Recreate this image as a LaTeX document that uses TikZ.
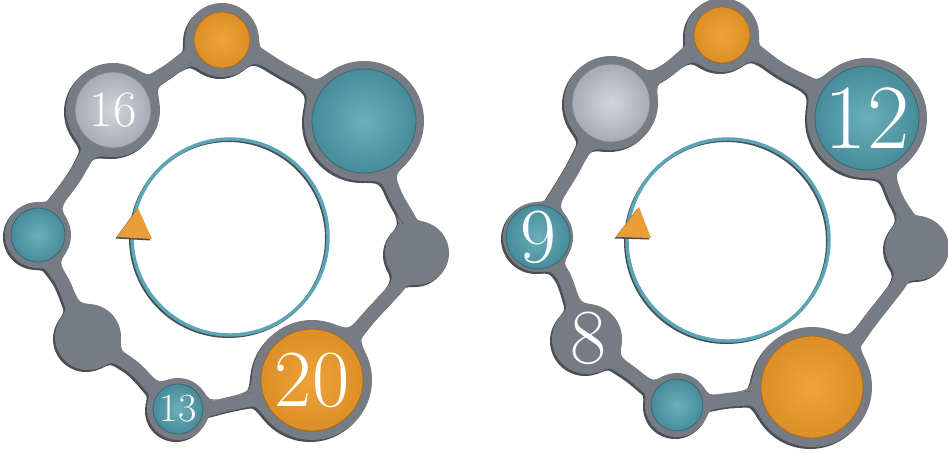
\documentclass[tikz,border=0pt]{standalone}
\usetikzlibrary{calc,intersections}
\definecolor{ringgray}{HTML}{767B84}
\definecolor{ringshadow}{HTML}{4A4E55}
\definecolor{orin}{HTML}{EFA33B}
\definecolor{orout}{HTML}{DC8F27}
\definecolor{tlin}{HTML}{6AAFB9}
\definecolor{tlout}{HTML}{478C99}
\definecolor{lgin}{HTML}{D3D5DA}
\definecolor{lgout}{HTML}{A7ABB4}
\definecolor{loopteal}{HTML}{5AA6B6}
\definecolor{arrorange}{HTML}{E99E3A}
\tikzset{
  orangeball/.style={circle, inner sep=0pt, inner color=orin, outer color=orout, draw=orout!75!black, line width=0.8pt, text=white},
  tealball/.style={circle, inner sep=0pt, inner color=tlin, outer color=tlout, draw=tlout!75!black, line width=0.8pt, text=white},
  greyball/.style={circle, inner sep=0pt, inner color=lgin, outer color=lgout, draw=lgout!75!black, line width=0.8pt, text=white},
  numtext/.style={text=white, inner sep=0pt},
  loopline/.style={draw=loopteal, line width=3.4pt},
  loopshadow/.style={draw=ringshadow, line width=3pt},
  tri/.style={fill=arrorange},
  trishadow/.style={fill=ringshadow}
}
\def\bandh{7}
% one concave fillet between a ball (centre #1, radius #2) and the band,
% band direction given by point #3, side #4 (90/-90), fillet radius #5, colour #6
\newcommand{\onefillet}[6]{%
  \pgfmathsetmacro{\fa}{sqrt((#2+#5)^2-(\bandh+#5)^2)}%
  \pgfmathsetmacro{\ft}{#5*sqrt((#2-\bandh)/(#2+2*#5+\bandh))}%
  \pgfmathsetmacro{\fak}{\fa-\ft}%
  \pgfmathsetmacro{\fhf}{\bandh+#5}%
  \pgfmathsetmacro{\fr}{#2/(#2+#5)}%
  \coordinate (fu) at ($(#1)!\fa pt!(#3)$);
  \coordinate (fkz) at ($(#1)!\fak pt!(#3)$);
  \coordinate (fp) at ($(fu)!\fhf pt!#4:(#1)$);
  \coordinate (ft2) at ($(fu)!\bandh pt!#4:(#1)$);
  \coordinate (fk) at ($(fkz)!\bandh pt!#4:(#1)$);
  \coordinate (ft1) at ($(#1)!\fr!(fp)$);
  \fill[#6] (#1) -- (ft1) .. controls (fk) .. (ft2) -- cycle;
}
% gray ball (outer) with its four fillets onto the band named "band"
\newcommand{\gball}[5]{%
  \fill[#5] (#1,#2) circle[radius=#3];
  \coordinate (gc) at (#1,#2);
  \pgfmathsetmacro{\fb}{sqrt((#3+#4)^2-(\bandh+#4)^2)}%
  \path[name path=fcirc] (gc) circle[radius=\fb];
  \path[name intersections={of=band and fcirc, name=fx}];
  \onefillet{gc}{#3}{fx-1}{90}{#4}{#5}
  \onefillet{gc}{#3}{fx-1}{-90}{#4}{#5}
  \onefillet{gc}{#3}{fx-2}{90}{#4}{#5}
  \onefillet{gc}{#3}{fx-2}{-90}{#4}{#5}
}
\newcommand{\leftgear}[1]{%
  \draw[#1, line width=14pt, name path=band] plot[smooth cycle, tension=0.65] coordinates {(222,40) (283,70) (364,121) (393,190) (417,253) (367,320) (312,380) (233,403) (178,409) (133,367) (88,337) (63,283) (38,235) (77,173) (113,110) (167,72)};
  \gball{222}{40}{37}{22}{#1}
  \gball{364}{121}{60}{26}{#1}
  \gball{417}{253}{32}{22}{#1}
  \gball{312}{380}{60}{26}{#1}
  \gball{178}{409}{31}{18}{#1}
  \gball{88}{337}{33}{22}{#1}
  \gball{38}{235}{33}{20}{#1}
  \gball{113}{110}{47}{24}{#1}
}
\newcommand{\rightgear}[1]{%
  \draw[#1, line width=14pt, name path=band] plot[smooth cycle, tension=0.65] coordinates {(722,35) (785,72) (867,118) (894,193) (917,248) (871,320) (812,387) (727,400) (677,405) (631,373) (587,339) (564,277) (538,237) (574,167) (611,103) (664,72)};
  \gball{722}{35}{37}{22}{#1}
  \gball{867}{118}{60}{26}{#1}
  \gball{917}{248}{32}{22}{#1}
  \gball{812}{387}{60}{26}{#1}
  \gball{677}{405}{32}{18}{#1}
  \gball{587}{339}{35}{22}{#1}
  \gball{538}{237}{35}{20}{#1}
  \gball{611}{103}{47}{24}{#1}
}
\begin{document}
\begin{tikzpicture}[x=1pt,y=-1pt]
\useasboundingbox (0,0) rectangle (948,451);

% ================= LEFT GEAR =================
\begin{scope}[transform canvas={shift={(-2,2)}}]
  \leftgear{ringshadow}
\end{scope}
\leftgear{ringgray}
\node[orangeball, minimum size=56pt] (li1) at (222,40) {};
\node[tealball, minimum size=104pt] (li2) at (364,121) {};
\node[orangeball, minimum size=102pt, font=\fontsize{81}{81}\selectfont] (li4) at (312,380) {20};
\node[tealball, minimum size=50pt, font=\fontsize{40}{40}\selectfont] (li5) at (178,409) {13};
\node[tealball, minimum size=54pt] (li7) at (38,235) {};
\node[greyball, minimum size=76pt, font=\fontsize{51}{51}\selectfont] (li8) at (113,110) {16};
\coordinate (lc) at (230,237);
\draw[loopshadow] ([shift={(-1.5,1.5)}]lc) circle[radius=98];
\draw[loopline] (lc) circle[radius=98];
\coordinate (lta) at (117,237);
\coordinate (ltb) at (138,208);
\coordinate (ltc) at (152,239);
\fill[trishadow] ([shift={(-1.5,1.5)}]lta) -- ([shift={(-1.5,1.5)}]ltb) -- ([shift={(-1.5,1.5)}]ltc) -- cycle;
\fill[tri] (lta) -- (ltb) -- (ltc) -- cycle;

% ================= RIGHT GEAR =================
\begin{scope}[transform canvas={shift={(-2,2)}}]
  \rightgear{ringshadow}
\end{scope}
\rightgear{ringgray}
\node[orangeball, minimum size=56pt] (ri1) at (722,35) {};
\node[tealball, minimum size=104pt, font=\fontsize{92}{92}\selectfont] (ri2) at (867,118) {12};
\node[orangeball, minimum size=102pt] (ri4) at (812,387) {};
\node[tealball, minimum size=52pt] (ri5) at (677,405) {};
\node[numtext, font=\fontsize{78}{78}\selectfont] (ri6) at (588,338) {8};
\node[tealball, minimum size=56pt, font=\fontsize{78}{78}\selectfont] (ri7) at (538,237) {9};
\node[greyball, minimum size=78pt] (ri8) at (611,103) {};
\coordinate (rc) at (728,240);
\draw[loopshadow] ([shift={(-1.5,1.5)}]rc) circle[radius=101];
\draw[loopline] (rc) circle[radius=101];
\coordinate (rta) at (616,237);
\coordinate (rtb) at (639,207);
\coordinate (rtc) at (651,238);
\fill[trishadow] ([shift={(-1.5,1.5)}]rta) -- ([shift={(-1.5,1.5)}]rtb) -- ([shift={(-1.5,1.5)}]rtc) -- cycle;
\fill[tri] (rta) -- (rtb) -- (rtc) -- cycle;
\end{tikzpicture}
\end{document}
